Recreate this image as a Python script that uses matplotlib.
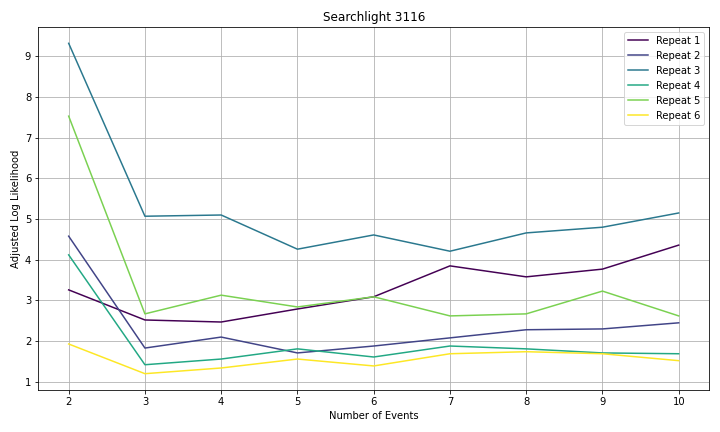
import matplotlib
matplotlib.use("Agg")
import matplotlib.pyplot as plt
import numpy as np

events = [2, 3, 4, 5, 6, 7, 8, 9, 10]
repeat1 = [3.26, 2.52, 2.47, 2.79, 3.09, 3.85, 3.58, 3.77, 4.36]
repeat2 = [4.58, 1.83, 2.10, 1.71, 1.88, 2.08, 2.28, 2.30, 2.45]
repeat3 = [9.32, 5.07, 5.10, 4.26, 4.61, 4.21, 4.66, 4.80, 5.15]
repeat4 = [4.12, 1.42, 1.56, 1.81, 1.61, 1.88, 1.81, 1.71, 1.69]
repeat5 = [7.53, 2.67, 3.13, 2.84, 3.09, 2.62, 2.67, 3.23, 2.62]
repeat6 = [1.93, 1.20, 1.34, 1.56, 1.39, 1.69, 1.74, 1.69, 1.52]
series = [repeat1, repeat2, repeat3, repeat4, repeat5, repeat6]
labels = [f"Repeat {i}" for i in range(1, 7)]

fig, ax = plt.subplots(figsize=(10, 6), dpi=72)
colors = plt.cm.viridis(np.linspace(0, 1, 6))
for s, l, c in zip(series, labels, colors):
    ax.plot(events, s, color=c, label=l)
ax.set_title("Searchlight 3116")
ax.set_xlabel("Number of Events")
ax.set_ylabel("Adjusted Log Likelihood")
ax.grid(True)
ax.legend(loc="upper right")
fig.tight_layout()
fig.savefig("out.png")
